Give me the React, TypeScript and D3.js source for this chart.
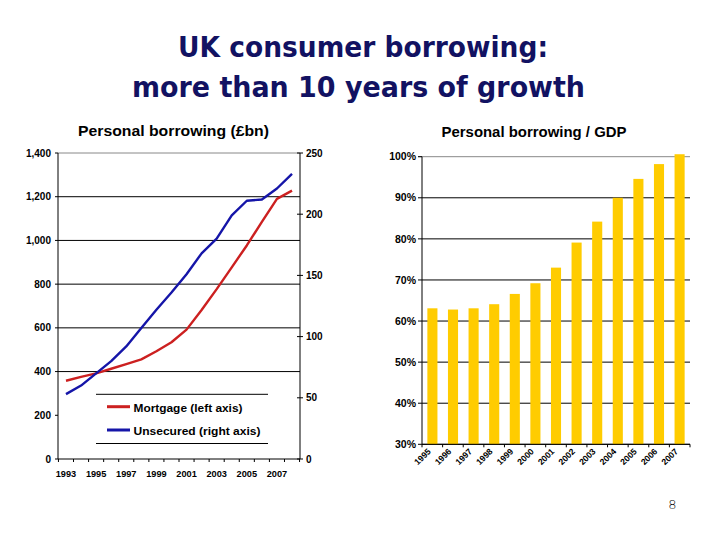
import * as d3 from "d3"

// Personal borrowing, £bn (annual)
const lineYears = [1993, 1994, 1995, 1996, 1997, 1998, 1999, 2000, 2001, 2002, 2003, 2004, 2005, 2006, 2007, 2008]
const mortgage = [358, 376, 392, 413, 434, 456, 493, 534, 592, 682, 777, 877, 977, 1085, 1190, 1228]
const unsecured = [53, 60, 70, 80, 92, 107, 122, 136, 151, 168, 180, 199, 211, 212, 221, 233]
const leftTicks = [0, 200, 400, 600, 800, 1000, 1200, 1400]
const rightTicks = [0, 50, 100, 150, 200, 250]
const yearLabels = [1993, 1995, 1997, 1999, 2001, 2003, 2005, 2007]

// Personal borrowing / GDP, %
const barYears = ["1995", "1996", "1997", "1998", "1999", "2000", "2001", "2002", "2003", "2004", "2005", "2006", "2007"]
const debtToGdp = [63.1, 62.8, 63.1, 64.1, 66.6, 69.2, 73.0, 79.1, 84.2, 90.0, 94.6, 98.2, 100.6]
const pctTicks = [30, 40, 50, 60, 70, 80, 90, 100]

const FONT = "'Liberation Sans', Arial, sans-serif"
const RED = "#cc2020"
const BLUE = "#1515a8"
const GOLD = "#ffcc00"

export default function App() {
  // left chart scales
  const x = d3.scaleLinear().domain([1992.47, 2008.53]).range([58, 300])
  const yL = d3.scaleLinear().domain([0, 1400]).range([459, 153])
  const yR = d3.scaleLinear().domain([0, 250]).range([459, 153])

  const mortgageLine = d3
    .line<number>()
    .x((_, i) => x(lineYears[i]))
    .y((d) => yL(d))
  const unsecuredLine = d3
    .line<number>()
    .x((_, i) => x(lineYears[i]))
    .y((d) => yR(d))

  // right chart scales
  const xb = d3.scaleBand().domain(barYears).range([422, 690]).paddingInner(0.51).paddingOuter(0.26)
  const yb = d3.scaleLinear().domain([30, 100]).range([444.3, 156.7])
  const step = (xb.range()[1] - xb.range()[0]) / barYears.length

  const yearTicks = d3.range(1992.5, 2009, 1)

  return (
    <svg
      width={720}
      height={540}
      style={{ position: "absolute", left: 0, top: 0, background: "#fff" }}
      fontFamily={FONT}
    >
      <rect width={720} height={540} fill="#fff" />

      {/* main title */}
      <g fontFamily="'DejaVu Sans', sans-serif" fontWeight="bold" fill="#121262" textAnchor="middle" fontSize={29}>
        <text x={363} y={57} textLength={370} lengthAdjust="spacingAndGlyphs">UK consumer borrowing:</text>
        <text x={358.5} y={97} textLength={453} lengthAdjust="spacingAndGlyphs">more than 10 years of growth</text>
      </g>

      {/* ---------- left chart ---------- */}
      <text x={173.5} y={136} textAnchor="middle" fontWeight="bold" fontSize={15} textLength={191} lengthAdjust="spacingAndGlyphs">
        Personal borrowing (£bn)
      </text>

      {leftTicks
        .filter((t) => t >= 400 && t < 1400)
        .map((t) => (
          <line key={t} x1={58} x2={300} y1={yL(t)} y2={yL(t)} stroke="#000" strokeWidth={1} />
        ))}
      <line x1={58} x2={300} y1={yL(1400)} y2={yL(1400)} stroke="#888" strokeWidth={1} />

      {/* legend frame */}
      <line x1={96} x2={268} y1={394.3} y2={394.3} stroke="#000" strokeWidth={1} />
      <line x1={96} x2={268} y1={443.5} y2={443.5} stroke="#000" strokeWidth={1} />

      {/* axes */}
      <line x1={58} x2={58} y1={153} y2={459} stroke="#000" />
      <line x1={300} x2={300} y1={153} y2={459} stroke="#000" />
      <line x1={58} x2={300} y1={459} y2={459} stroke="#000" />
      {leftTicks.map((t) => (
        <g key={t}>
          <line x1={55} x2={58} y1={yL(t)} y2={yL(t)} stroke="#000" />
          <text x={51} y={yL(t) + 3.6} textAnchor="end" fontWeight="bold" fontSize={10}>
            {d3.format(",")(t)}
          </text>
        </g>
      ))}
      {rightTicks.map((t) => (
        <g key={t}>
          <line x1={297} x2={303} y1={yR(t)} y2={yR(t)} stroke="#000" />
          <text x={306} y={yR(t) + 3.6} fontWeight="bold" fontSize={10}>
            {t}
          </text>
        </g>
      ))}
      {yearTicks.map((t) => (
        <line key={t} x1={x(t)} x2={x(t)} y1={459} y2={462} stroke="#000" />
      ))}
      {yearLabels.map((yr) => (
        <text key={yr} x={x(yr)} y={477} textAnchor="middle" fontWeight="bold" fontSize={9.2}>
          {yr}
        </text>
      ))}

      <path d={mortgageLine(mortgage) ?? ""} fill="none" stroke={RED} strokeWidth={2.4} strokeLinejoin="round" />
      <path d={unsecuredLine(unsecured) ?? ""} fill="none" stroke={BLUE} strokeWidth={2.4} strokeLinejoin="round" />

      {/* legend entries */}
      <line x1={107} x2={130} y1={406.7} y2={406.7} stroke={RED} strokeWidth={3} />
      <text x={133.5} y={411.5} fontWeight="bold" fontSize={11.6} textLength={109} lengthAdjust="spacingAndGlyphs">
        Mortgage (left axis)
      </text>
      <line x1={107} x2={130} y1={430} y2={430} stroke={BLUE} strokeWidth={3} />
      <text x={133.5} y={435} fontWeight="bold" fontSize={11.6} textLength={127} lengthAdjust="spacingAndGlyphs">
        Unsecured (right axis)
      </text>

      {/* ---------- right chart ---------- */}
      <text x={534} y={136.7} textAnchor="middle" fontWeight="bold" fontSize={15} textLength={185} lengthAdjust="spacingAndGlyphs">
        Personal borrowing / GDP
      </text>

      {pctTicks.map((t) => (
        <g key={t}>
          <line
            x1={418}
            x2={690}
            y1={yb(t)}
            y2={yb(t)}
            stroke={t === 100 ? "#888" : "#000"}
            strokeWidth={1}
          />
          <text x={416} y={yb(t) + 3.7} textAnchor="end" fontWeight="bold" fontSize={10.5}>
            {t}%
          </text>
        </g>
      ))}
      <line x1={418} x2={422} y1={yb(100)} y2={yb(100)} stroke="#000" />

      {debtToGdp.map((v, i) => (
        <rect
          key={barYears[i]}
          x={xb(barYears[i])}
          y={yb(v)}
          width={xb.bandwidth()}
          height={yb(30) - yb(v)}
          fill={GOLD}
        />
      ))}

      <line x1={422} x2={422} y1={yb(100)} y2={yb(30)} stroke="#000" />
      <line x1={422} x2={690} y1={yb(30)} y2={yb(30)} stroke="#000" />
      {d3.range(barYears.length + 1).map((k) => (
        <line key={k} x1={422 + k * step} x2={422 + k * step} y1={yb(30)} y2={yb(30) + 3} stroke="#000" />
      ))}
      {barYears.map((yr) => {
        const cx = (xb(yr) ?? 0) + xb.bandwidth() / 2 - 1
        return (
          <text
            key={yr}
            x={cx}
            y={452}
            textAnchor="end"
            fontWeight="bold"
            fontSize={8.6}
            transform={`rotate(-45 ${cx} 452)`}
          >
            {yr}
          </text>
        )
      })}

      {/* page number */}
      <text x={672.5} y={509} textAnchor="middle" fontSize={13} fontFamily="'DejaVu Sans', sans-serif" fontWeight={300}>
        8
      </text>
    </svg>
  )
}
